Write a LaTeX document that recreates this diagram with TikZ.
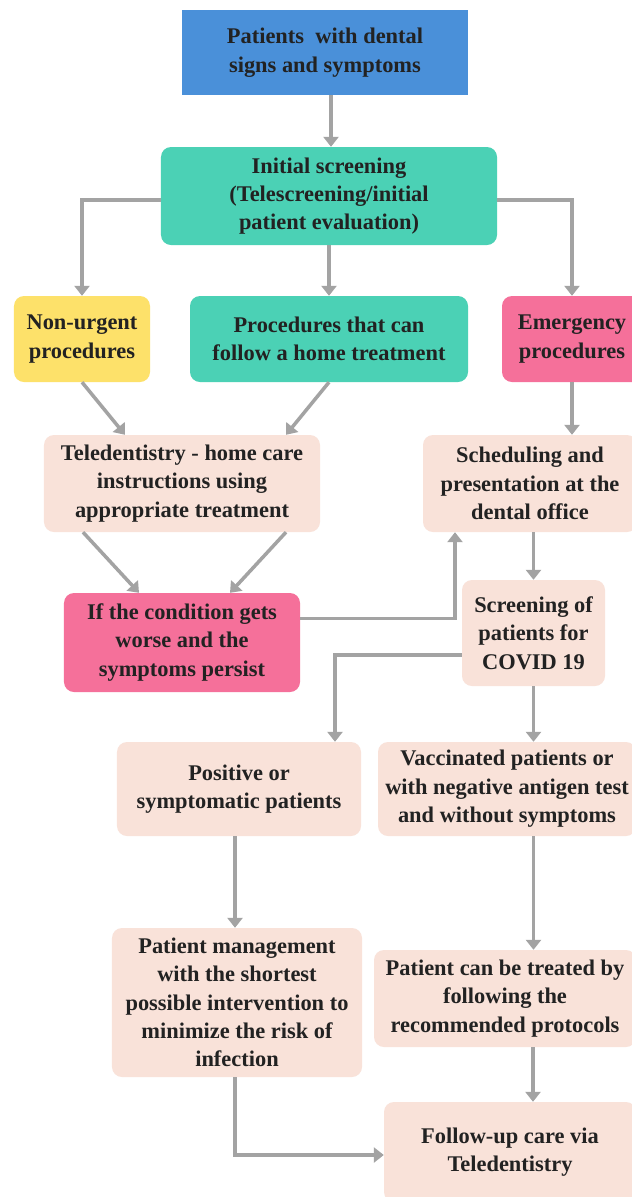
\documentclass[tikz,border=0pt]{standalone}
\usepackage{fontspec}
\setmainfont{Liberation Serif}
\usetikzlibrary{arrows.meta,calc}
\definecolor{topblue}{HTML}{4A90D9}
\definecolor{teal}{HTML}{4BD1B5}
\definecolor{sunny}{HTML}{FDE16A}
\definecolor{rosy}{HTML}{F5709A}
\definecolor{peach}{HTML}{F9E2D9}
\definecolor{arrowgray}{HTML}{A3A3A3}
\definecolor{ink}{HTML}{222222}

\begin{document}
\begin{tikzpicture}[x=1bp,y=-1bp,
    box/.style={rounded corners=10bp,align=center,text=ink,inner sep=0pt,
        font=\bfseries\fontsize{22.5}{28.5}\selectfont},
    arr/.style={arrowgray,line width=3.5bp,-{Triangle[width=15bp,length=10bp]}}]
    \useasboundingbox[fill=white] (0,0) rectangle (632,1197);
    \node[box,rounded corners=0pt,fill=topblue,minimum width=286bp,minimum height=85bp] (top) at (325,52.5) {Patients\ \ with dental\\signs and symptoms};
    \node[box,fill=teal,minimum width=336bp,minimum height=98bp] (init) at (329,196) {Initial screening\\(Telescreening/initial\\patient evaluation)};
    \node[box,fill=sunny,minimum width=136bp,minimum height=86bp] (nonurg) at (82,339) {Non-urgent\\procedures};
    \node[box,fill=teal,minimum width=278bp,minimum height=86bp] (home) at (329,339) {Procedures that can\\follow a home treatment};
    \node[box,fill=rosy,minimum width=140bp,minimum height=86bp] (emerg) at (572,339) {Emergency\\procedures};
    \node[box,fill=peach,minimum width=276bp,minimum height=97bp] (tele) at (182,483.5) {Teledentistry - home care\\instructions using\\appropriate treatment};
    \node[box,fill=peach,minimum width=214bp,minimum height=97bp] (sched) at (530,483.5) {Scheduling and\\presentation at the\\dental office};
    \node[box,fill=rosy,minimum width=236bp,minimum height=99bp] (cond) at (182,642.5) {If the condition gets\\worse and the\\symptoms persist};
    \node[box,fill=peach,minimum width=143bp,minimum height=106bp] (covid) at (533.5,633) {Screening of\\patients for\\COVID 19};
    \node[box,fill=peach,minimum width=244bp,minimum height=94bp] (pos) at (239,789) {Positive or\\symptomatic patients};
    \node[box,fill=peach,minimum width=258bp,minimum height=94bp] (vacc) at (507,789) {Vaccinated patients or\\with negative antigen test\\and without symptoms};
    \node[box,fill=peach,minimum width=250bp,minimum height=149bp] (mgmt) at (237,1002.5) {Patient management\\with the shortest\\possible intervention to\\minimize the risk of\\infection};
    \node[box,fill=peach,minimum width=262bp,minimum height=97bp] (treat) at (505,998.5) {Patient can be treated by\\following the\\recommended protocols};
    \node[box,fill=peach,minimum width=252bp,minimum height=100bp] (follow) at (510,1152) {Follow-up care via\\Teledentistry};
    \draw[arr] ($(top.south)+(6,0)$) -- ($(init.north)+(2,0)$);
    \draw[arr] ($(init.west)+(0,4)$) -| (nonurg.north);
    \draw[arr] (init.south) -- (home.north);
    \draw[arr] ($(init.east)+(0,4)$) -| (emerg.north);
    \draw[arr] (nonurg.south) -- ($(tele.north)+(-57,0)$);
    \draw[arr] (home.south) -- ($(tele.north)+(104,0)$);
    \draw[arr] (emerg.south) -- (emerg.south |- sched.north);
    \draw[arr] ($(tele.south)+(-99,0)$) -- ($(cond.north)+(-43,0)$);
    \draw[arr] ($(tele.south)+(104,0)$) -- ($(cond.north)+(48,0)$);
    \draw[arr] ($(cond.east)+(0,-24)$) -| ($(sched.south)+(-75,0)$);
    \draw[arr] (covid.north |- sched.south) -- (covid.north);
    \draw[arr] ($(covid.west)+(0,22)$) -| ($(pos.north)+(96,0)$);
    \draw[arr] (covid.south) -- (covid.south |- vacc.north);
    \draw[arr] ($(pos.south)+(-4,0)$) -- ($(mgmt.north)+(-2,0)$);
    \draw[arr] (covid.south |- vacc.south) -- (covid.south |- treat.north);
    \draw[arr] (treat.south -| follow.north) ++(23,0) -- ($(follow.north)+(23,0)$);
    \draw[arr] ($(mgmt.south)+(-2,0)$) |- ($(follow.west)+(0,3)$);
\end{tikzpicture}
\end{document}
